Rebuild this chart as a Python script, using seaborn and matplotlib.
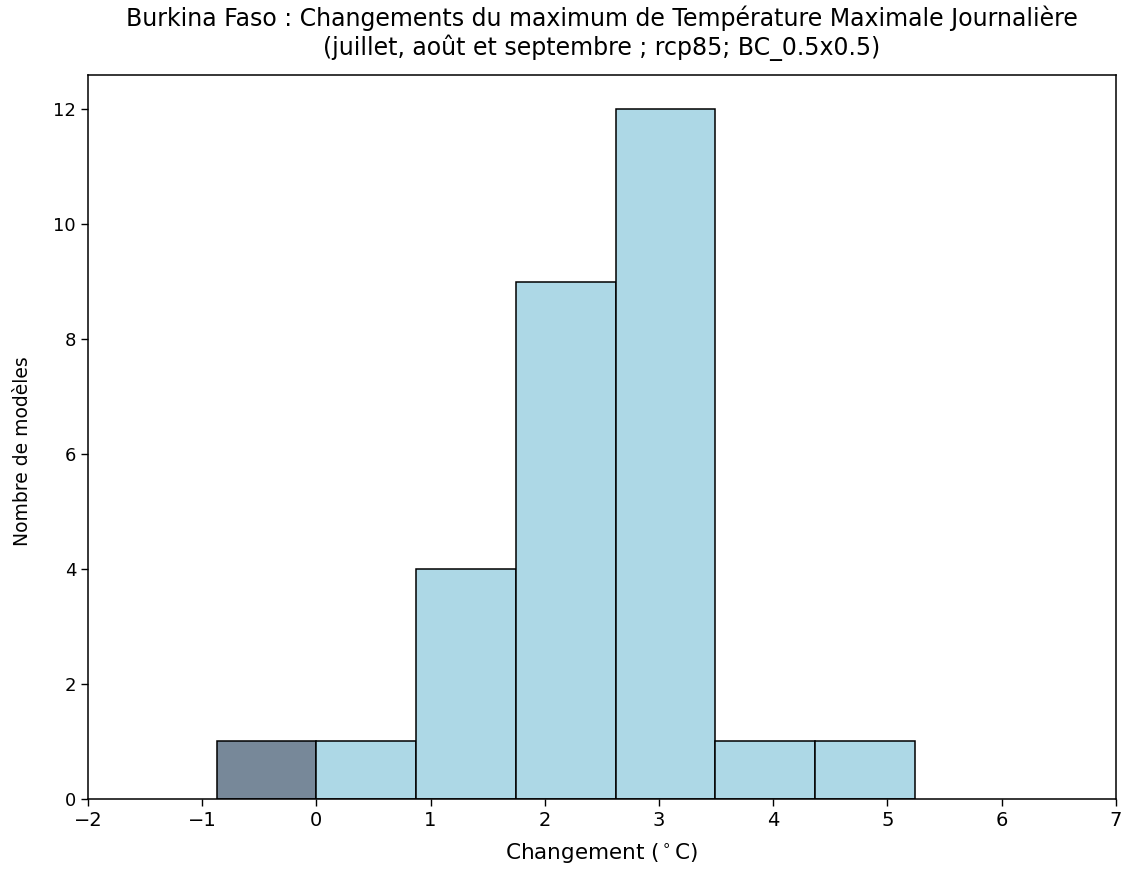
import numpy as np
import matplotlib
matplotlib.use("Agg")
import matplotlib.pyplot as plt
import seaborn as sns

# histogram bins
bin_edges = [-0.8735, 0.0, 0.8735, 1.747, 2.6205, 3.494, 4.3675, 5.241]
counts = [1, 1, 4, 9, 12, 1, 1]
bin_centers = [(a + b) / 2 for a, b in zip(bin_edges[:-1], bin_edges[1:])]

sns.set_style("ticks")
plt.rcParams['font.family'] = ['DejaVu Sans']
plt.rcParams['text.color'] = 'black'
plt.rcParams['axes.labelcolor'] = 'black'
plt.rcParams['xtick.color'] = 'black'
plt.rcParams['ytick.color'] = 'black'

fig, ax = plt.subplots(figsize=(11.27, 8.71), dpi=100)
sns.histplot(x=bin_centers, weights=counts, bins=bin_edges, ax=ax,
             color='lightblue', edgecolor='black', linewidth=1.1, alpha=1)

# negative-change bin is shaded darker
for patch in ax.patches:
    if patch.get_x() + patch.get_width() <= 0.001:
        patch.set_facecolor('lightslategray')

ax.set_xlim(-2, 7)
ax.set_ylim(0, 12.6)
ax.set_xticks(range(-2, 8))
ax.set_xticklabels([str(v).replace('-', '\u2212') for v in range(-2, 8)])
ax.set_yticks(range(0, 13, 2))
ax.tick_params(axis='x', labelsize=14, length=5, width=1, direction='out')
ax.tick_params(axis='y', labelsize=13, length=5, width=1, direction='out')
for s in ax.spines.values():
    s.set_visible(True)
    s.set_linewidth(1.1)
    s.set_color('black')

ax.set_xlabel('Changement ($^\\circ$C)', fontsize=15.5, labelpad=9)
ax.set_ylabel('Nombre de modèles', fontsize=13.5)
ax.yaxis.set_label_coords(-0.054, 0.48)
ax.set_title('Burkina Faso : Changements du maximum de Température Maximale Journalière\n'
             '(juillet, août et septembre ; rcp85; BC_0.5x0.5)', fontsize=17, pad=14)

fig.subplots_adjust(left=0.078, right=0.99, top=0.914, bottom=0.083)
fig.savefig('out.png', dpi=100)
